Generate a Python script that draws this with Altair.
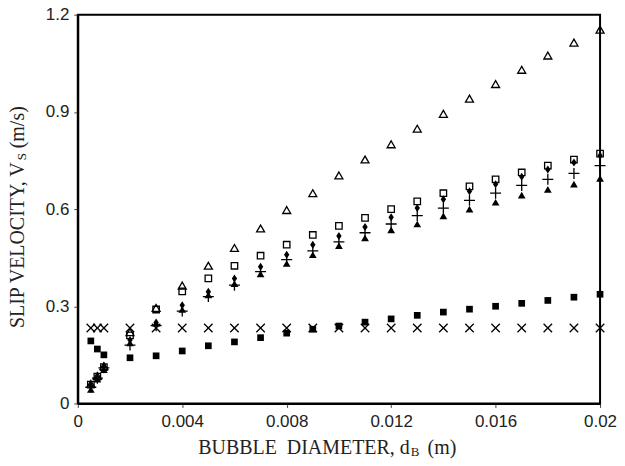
import altair as alt
import pandas as pd

# ---- data ----
d_b = [0.0005, 0.00075, 0.001, 0.002, 0.003, 0.004, 0.005, 0.006, 0.007, 0.008,
       0.009, 0.010, 0.011, 0.012, 0.013, 0.014, 0.015, 0.016, 0.017, 0.018,
       0.019, 0.020]

cross_vals = [0.233] * 22
filled_square_vals = [0.193, 0.168, 0.150, 0.141, 0.147, 0.162, 0.178, 0.190, 0.203, 0.217,
                      0.229, 0.239, 0.251, 0.261, 0.272, 0.282, 0.291, 0.300, 0.309, 0.318,
                      0.328, 0.337]
open_triangle_vals = [0.060, 0.085, 0.115, 0.220, 0.295, 0.364, 0.425, 0.480, 0.540, 0.597,
                      0.649, 0.704, 0.753, 0.800, 0.848, 0.894, 0.941, 0.986, 1.030, 1.074,
                      1.114, 1.154]
open_square_vals = [0.058, 0.083, 0.112, 0.210, 0.290, 0.346, 0.386, 0.425, 0.456, 0.490,
                    0.520, 0.548, 0.573, 0.600, 0.624, 0.649, 0.670, 0.692, 0.713, 0.734,
                    0.753, 0.771]
diamond_vals = [0.055, 0.080, 0.113, 0.196, 0.250, 0.303, 0.345, 0.386, 0.422, 0.459,
                0.490, 0.517, 0.545, 0.575, 0.603, 0.630, 0.655, 0.677, 0.700, 0.722,
                0.744, 0.765]
plus_vals = [0.050, 0.078, 0.110, 0.180, 0.240, 0.285, 0.330, 0.365, 0.407, 0.444,
             0.471, 0.499, 0.527, 0.554, 0.580, 0.603, 0.627, 0.649, 0.673, 0.692,
             0.710, 0.734]
filled_triangle_vals = [0.043, 0.075, 0.104, 0.187, 0.248, 0.290, 0.335, 0.370, 0.400, 0.432,
                        0.459, 0.487, 0.511, 0.536, 0.554, 0.579, 0.600, 0.621, 0.643, 0.661,
                        0.677, 0.695]

x_ticks = [0, 0.004, 0.008, 0.012, 0.016, 0.02]
y_ticks = [0, 0.3, 0.6, 0.9, 1.2]

W, H = 524, 390

SANS = "Liberation Sans, Arial, Helvetica, sans-serif"
SERIF = "Liberation Serif, Times New Roman, Times, serif"

xs = alt.Scale(domain=[0, 0.02], nice=False)
ys = alt.Scale(domain=[0, 1.2], nice=False)

x_enc = alt.X("x:Q", scale=xs, title=None,
              axis=alt.Axis(values=x_ticks, format="~g", grid=False, tickSize=4,
                            labelPadding=6, labelFontSize=17, labelFont=SANS,
                            labelColor="#222", tickColor="#444", domainColor="black",
                            domainWidth=2, labelFlush=False, labelOverlap=False))
y_enc = alt.Y("y:Q", scale=ys, title=None,
              axis=alt.Axis(values=y_ticks, format="~g", grid=False, tickSize=4,
                            labelPadding=5, labelFontSize=17, labelFont=SANS,
                            labelColor="#222", tickColor="#444", domainColor="black",
                            domainWidth=2, labelFlush=False, labelOverlap=False))


def series(vals, shape, size, filled, stroke_width=1.2):
    df = pd.DataFrame({"x": d_b, "y": vals})
    if filled:
        mk = alt.Chart(df).mark_point(shape=shape, size=size, filled=True,
                                      color="black", opacity=1)
    else:
        mk = alt.Chart(df).mark_point(shape=shape, size=size, filled=False,
                                      stroke="black", strokeWidth=stroke_width,
                                      fill="white", fillOpacity=0, opacity=1)
    return mk.encode(x=x_enc, y=y_enc)


layers = [
    series(cross_vals, "M-1,-1L1,1M-1,1L1,-1", 72, False, 1.3),
    series(filled_square_vals, "square", 45, True),
    series(open_triangle_vals, "triangle-up", 64, False, 1.3),
    series(open_square_vals, "square", 42, False, 1.3),
    series(filled_triangle_vals, "triangle-up", 60, True),
    series(plus_vals, "M-1,0L1,0M0,-1L0,1", 121, False, 1.3),
    series(diamond_vals, "M0,-1.2L0.8,0L0,1.2L-0.8,0Z", 45, True),
]

one = pd.DataFrame({"a": [0]})


def label(text, x, y, size, align, angle=0):
    return alt.Chart(one).mark_text(text=text, font=SERIF, fontSize=size, align=align,
                                    baseline="alphabetic", angle=angle, color="#222").encode(
        x=alt.value(x), y=alt.value(y))


titles = [
    label("BUBBLE\u00a0\u00a0DIAMETER, d", 333, 441, 20, "right"),
    label("B", 334, 443, 13, "left"),
    label("(m)", 351, 441, 20, "left"),
    label("SLIP VELOCITY, V", -54, 148, 20, "right", 270),
    label("S", -52, 146, 13, "left", 270),
    label("(m/s)", -54, 134, 20, "left", 270),
]

chart = alt.layer(*layers, *titles).properties(
    width=W, height=H,
    autosize=alt.AutoSizeParams(type="none"),
    padding={"left": 70, "top": 6, "right": 17, "bottom": 56},
    background="white",
).configure_view(stroke="black", strokeWidth=2)

chart.save("out.html", embed_options={"renderer": "svg", "actions": False})
